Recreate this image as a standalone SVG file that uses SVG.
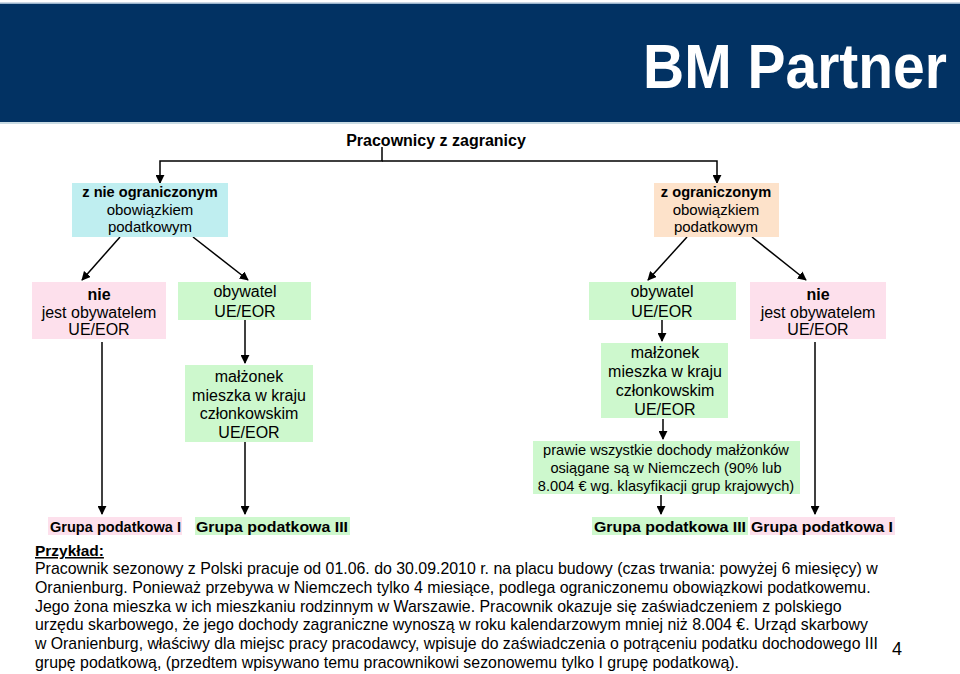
<svg xmlns="http://www.w3.org/2000/svg" width="960" height="674" viewBox="0 0 960 674">
<style>
text{font-family:"Liberation Sans",Arial,sans-serif;fill:#000}
.n{font-size:16px;text-anchor:middle}
.t{font-size:15px;text-anchor:middle}
.h{font-size:14.6px;font-weight:bold;text-anchor:middle}
.s{font-size:14.6px;text-anchor:middle}
.b{font-weight:bold}
.g{font-size:15px;font-weight:bold}
.p{font-size:15.9px}
.cy{fill:#bfeef0}.pe{fill:#fde2ca}.pk{fill:#fde0ec}.gr{fill:#cdf8cd}
.c{stroke:#000;stroke-width:1.5;fill:none;marker-end:url(#ah)}
</style>
<defs>
<marker id="ah" viewBox="0 0 10 10" refX="9" refY="5" markerWidth="6" markerHeight="6" orient="auto" markerUnits="strokeWidth"><path d="M0,0 L10,5 L0,10 z" fill="#000"/></marker>
</defs>
<rect width="960" height="674" fill="#fff"/>
<g id="header">
<rect x="0" y="2.5" width="960" height="2" fill="#9bb4cc"/>
<rect x="0" y="4" width="960" height="118" fill="#023263"/>
<rect x="0" y="122" width="960" height="2" fill="#c9dbe3"/>
<text transform="translate(947,88) scale(1,1.1)" x="0" y="0" font-size="57" font-weight="bold" text-anchor="end" style="fill:#fff">BM Partner</text>
</g>
<g id="title"><text x="436" y="146" font-size="16" font-weight="bold" text-anchor="middle">Pracownicy z zagranicy</text></g>
<g id="connectors">
<path class="c" d="M382,147 V161 H160 V183"/>
<path class="c" d="M382,161 H717 V183"/>
<path class="c" d="M120,237 L82,280"/>
<path class="c" d="M193,237 L248,280"/>
<path class="c" d="M687,237 L648,280"/>
<path class="c" d="M752,237 L806,280"/>
<path class="c" d="M102,342 V514"/>
<path class="c" d="M245,320 V363"/>
<path class="c" d="M245,442 V514"/>
<path class="c" d="M662,320 V341"/>
<path class="c" d="M663,419 V439"/>
<path class="c" d="M661,495 V514"/>
<path class="c" d="M815,342 V514"/>
</g>
<g id="n-nieogr"><rect class="cy" x="72" y="183" width="156" height="54"/>
<text class="h" x="150" y="197">z nie ograniczonym</text><text class="t" x="150" y="215">obowiązkiem</text><text class="t" x="150" y="232">podatkowym</text></g>
<g id="n-ogr"><rect class="pe" x="654" y="183" width="125" height="54"/>
<text class="h" x="716" y="197">z ograniczonym</text><text class="t" x="716" y="215">obowiązkiem</text><text class="t" x="716" y="232">podatkowym</text></g>
<g id="n-nie-l"><rect class="pk" x="32" y="282" width="134" height="57"/>
<text class="n b" x="99" y="300">nie</text><text class="n" x="99" y="317.5">jest obywatelem</text><text class="n" x="99" y="335">UE/EOR</text></g>
<g id="n-oby-l"><rect class="gr" x="178" y="282" width="133" height="38"/>
<text class="n" x="245" y="297">obywatel</text><text class="n" x="245" y="317">UE/EOR</text></g>
<g id="n-oby-r"><rect class="gr" x="589" y="282" width="147" height="38"/>
<text class="n" x="662" y="297">obywatel</text><text class="n" x="662" y="317">UE/EOR</text></g>
<g id="n-nie-r"><rect class="pk" x="750" y="282" width="136" height="57"/>
<text class="n b" x="818" y="300">nie</text><text class="n" x="818" y="317.5">jest obywatelem</text><text class="n" x="818" y="335">UE/EOR</text></g>
<g id="n-malz-l"><rect class="gr" x="185" y="365" width="128" height="77"/>
<text class="n" x="249" y="382">małżonek</text><text class="n" x="249" y="400.5">mieszka w kraju</text><text class="n" x="249" y="419">członkowskim</text><text class="n" x="249" y="438">UE/EOR</text></g>
<g id="n-malz-r"><rect class="gr" x="601" y="343" width="127" height="75"/>
<text class="n" x="665" y="358">małżonek</text><text class="n" x="665" y="377">mieszka w kraju</text><text class="n" x="665" y="396">członkowskim</text><text class="n" x="665" y="415">UE/EOR</text></g>
<g id="n-prawie"><rect class="gr" x="533" y="441" width="267" height="53"/>
<text class="s" x="666" y="455">prawie wszystkie dochody małżonków</text><text class="s" x="666" y="473">osiągane są w Niemczech (90% lub</text><text class="s" x="666" y="491">8.004 € wg. klasyfikacji grup krajowych)</text></g>
<g id="n-g1-l"><rect class="pk" x="48" y="517" width="134" height="18"/><text class="g" x="50" y="532" textLength="131" lengthAdjust="spacingAndGlyphs">Grupa podatkowa I</text></g>
<g id="n-g3-l"><rect class="gr" x="195" y="517" width="155" height="18"/><text class="g" x="196" y="532" textLength="152" lengthAdjust="spacingAndGlyphs">Grupa podatkowa III</text></g>
<g id="n-g3-r"><rect class="gr" x="592" y="517" width="156" height="18"/><text class="g" x="594" y="532" textLength="152" lengthAdjust="spacingAndGlyphs">Grupa podatkowa III</text></g>
<g id="n-g1-r"><rect class="pk" x="750" y="517" width="145" height="18"/><text class="g" x="751" y="532" textLength="142" lengthAdjust="spacingAndGlyphs">Grupa podatkowa I</text></g>
<g id="example">
<text x="35" y="556" font-size="15.5" font-weight="bold" text-decoration="underline">Przykład:</text>
<text class="p" x="35" y="574">Pracownik sezonowy z Polski pracuje od 01.06. do 30.09.2010 r. na placu budowy (czas trwania: powyżej 6 miesięcy) w</text>
<text class="p" x="35" y="593">Oranienburg. Ponieważ przebywa w Niemczech tylko 4 miesiące, podlega ograniczonemu obowiązkowi podatkowemu.</text>
<text class="p" x="35" y="611.5">Jego żona mieszka w ich mieszkaniu rodzinnym w Warszawie. Pracownik okazuje się zaświadczeniem z polskiego</text>
<text class="p" x="35" y="630">urzędu skarbowego, że jego dochody zagraniczne wynoszą w roku kalendarzowym mniej niż 8.004 €. Urząd skarbowy</text>
<text class="p" x="35" y="649" textLength="843" lengthAdjust="spacingAndGlyphs">w Oranienburg, właściwy dla miejsc pracy pracodawcy, wpisuje do zaświadczenia o potrąceniu podatku dochodowego III</text>
<text class="p" x="35" y="667.5">grupę podatkową, (przedtem wpisywano temu pracownikowi sezonowemu tylko I grupę podatkową).</text>
<text x="892" y="655" font-size="18">4</text>
</g>
</svg>
